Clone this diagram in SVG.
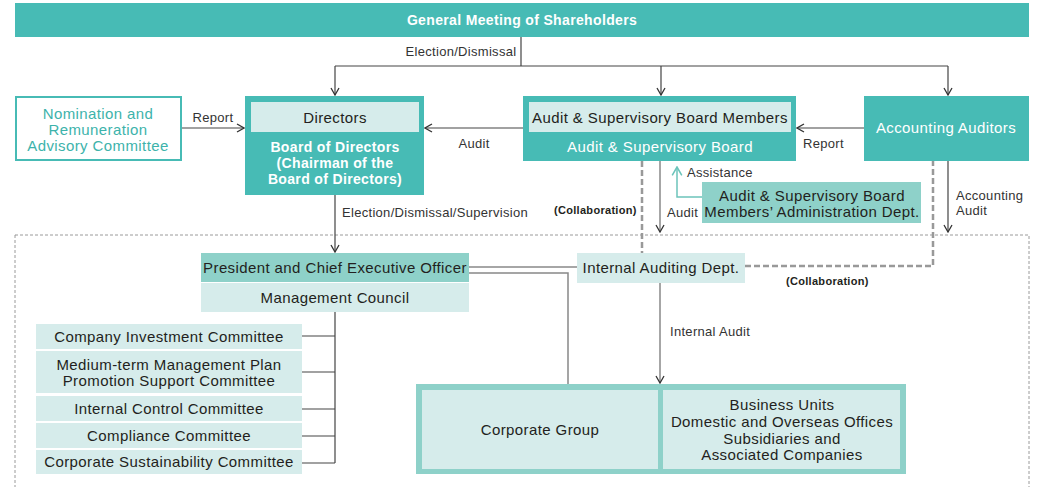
<svg xmlns="http://www.w3.org/2000/svg" width="1037" height="487" viewBox="0 0 1037 487">
<defs>
<style>
text{font-family:"Liberation Sans",Arial,sans-serif;font-size:15px;letter-spacing:0.4px;fill:#231f20}
.c{text-anchor:middle}
.w{fill:#fff}
.b{font-weight:bold;font-size:14px;letter-spacing:0.35px}
.lbl{font-size:13px;letter-spacing:0.3px;fill:#333}
.col{font-size:11px;letter-spacing:0.3px;font-weight:bold;fill:#231f20}
.dark{fill:#47bbb5}
.mid{fill:#8ed1c9}
.light{fill:#d6eceb}
.ln{fill:none;stroke:#444;stroke-width:1.2}
.gl{fill:none;stroke:#888;stroke-width:1.5}
.dash{fill:none;stroke:#999;stroke-width:2.5;stroke-dasharray:6,3}
</style>
<marker id="ar" viewBox="0 0 10 10" refX="9" refY="5" markerWidth="10" markerHeight="10" markerUnits="userSpaceOnUse" orient="auto">
<path d="M2,1 L9,5 L2,9" fill="none" stroke="#333" stroke-width="1.3"/>
</marker>
<marker id="art" viewBox="0 0 10 10" refX="9" refY="5" markerWidth="12" markerHeight="12" markerUnits="userSpaceOnUse" orient="auto">
<path d="M2,1 L9,5 L2,9" fill="none" stroke="#6cc4bb" stroke-width="1.3"/>
</marker>
</defs>

<rect x="15" y="235" width="1014" height="260" fill="none" stroke="#9a9a9a" stroke-width="1" stroke-dasharray="3,2"/>

<g id="connectors">
<path class="ln" d="M521,37 V66"/>
<path class="ln" d="M335,66 H948"/>
<path class="ln" d="M335,66 V95" marker-end="url(#ar)"/>
<path class="ln" d="M661,66 V95" marker-end="url(#ar)"/>
<path class="ln" d="M948,66 V95" marker-end="url(#ar)"/>
<path class="ln" d="M181,128 H244" marker-end="url(#ar)"/>
<path class="ln" d="M523,128 H425" marker-end="url(#ar)"/>
<path class="ln" d="M864,128 H797" marker-end="url(#ar)"/>
<path class="ln" d="M335,195 V252" marker-end="url(#ar)"/>
<path class="gl" d="M660,161 V232" marker-end="url(#ar)"/>
<path class="ln" d="M948,161 V232" marker-end="url(#ar)"/>
<path fill="none" stroke="#6cc4bb" stroke-width="1.5" d="M702,197 H677 V167" marker-end="url(#art)"/>
<path class="dash" d="M642,161 V253"/>
<path class="dash" d="M745,266 H933 V161"/>
<path class="gl" d="M469,267 H577"/>
<path class="gl" d="M469,273 H568 V385"/>
<path class="gl" d="M660,283 V383" marker-end="url(#ar)"/>
<path class="ln" d="M335,312 V463"/>
<path class="ln" d="M302,336 H335 M302,372 H335 M302,409 H335 M302,436 H335 M302,463 H335"/>
</g>

<g id="gms">
<rect class="dark" x="15" y="3" width="1014" height="34"/>
<text class="c w b" x="522" y="25">General Meeting of Shareholders</text>
</g>
<text class="lbl c" x="461" y="56">Election/Dismissal</text>

<g id="nomination">
<rect x="16" y="97" width="165" height="63" fill="#fff" stroke="#47bbb5" stroke-width="2"/>
<text class="c" style="fill:#3db3ab" x="98" y="119">Nomination and</text>
<text class="c" style="fill:#3db3ab" x="98" y="135">Remuneration</text>
<text class="c" style="fill:#3db3ab" x="98" y="151">Advisory Committee</text>
</g>
<text class="lbl c" x="213" y="122">Report</text>

<g id="board">
<rect class="dark" x="245" y="96" width="179" height="99"/>
<rect class="light" x="251" y="102" width="168" height="30"/>
<text class="c" x="335" y="123">Directors</text>
<text class="c w b" x="335" y="152">Board of Directors</text>
<text class="c w b" x="335" y="168">(Chairman of the</text>
<text class="c w b" x="335" y="184">Board of Directors)</text>
</g>
<text class="lbl c" x="474" y="148">Audit</text>
<text class="lbl" x="342" y="217">Election/Dismissal/Supervision</text>

<g id="asb">
<rect class="dark" x="523" y="96" width="273" height="65"/>
<rect class="light" x="529" y="102" width="262" height="30"/>
<text class="c" x="660" y="123">Audit &amp; Supervisory Board Members</text>
<text class="c w" x="660" y="152">Audit &amp; Supervisory Board</text>
</g>
<text class="lbl" x="803" y="148">Report</text>

<g id="accounting">
<rect class="dark" x="864" y="96" width="165" height="65"/>
<text class="c w" x="946" y="133">Accounting Auditors</text>
</g>

<text class="lbl" x="687" y="177">Assistance</text>
<g id="admin">
<rect class="mid" x="702" y="182" width="219" height="41"/>
<text class="c" x="812" y="201">Audit &amp; Supervisory Board</text>
<text class="c" x="812" y="217">Members’ Administration Dept.</text>
</g>
<text class="lbl" x="667" y="217">Audit</text>
<text class="col" x="554" y="214">(Collaboration)</text>
<text class="lbl" x="956" y="200">Accounting</text>
<text class="lbl" x="956" y="215">Audit</text>

<g id="president">
<rect class="mid" x="201" y="253" width="268" height="29"/>
<text class="c" x="335" y="273">President and Chief Executive Officer</text>
</g>
<g id="council">
<rect class="light" x="201" y="283" width="268" height="29"/>
<text class="c" x="335" y="303">Management Council</text>
</g>

<g id="internal-audit">
<rect class="light" x="577" y="253" width="168" height="30"/>
<text class="c" x="661" y="273">Internal Auditing Dept.</text>
</g>
<text class="col" x="786" y="285">(Collaboration)</text>
<text class="lbl" x="670" y="336">Internal Audit</text>

<g id="cic">
<rect class="light" x="36" y="324" width="266" height="25"/>
<text class="c" x="169" y="342">Company Investment Committee</text>
</g>
<g id="mtmp">
<rect class="light" x="36" y="351" width="266" height="42"/>
<text class="c" x="169" y="370">Medium-term Management Plan</text>
<text class="c" x="169" y="386">Promotion Support Committee</text>
</g>
<g id="icc">
<rect class="light" x="36" y="396" width="266" height="25"/>
<text class="c" x="169" y="414">Internal Control Committee</text>
</g>
<g id="cc">
<rect class="light" x="36" y="423" width="266" height="25"/>
<text class="c" x="169" y="441">Compliance Committee</text>
</g>
<g id="csc">
<rect class="light" x="36" y="450" width="266" height="24"/>
<text class="c" x="169" y="467">Corporate Sustainability Committee</text>
</g>

<g id="group">
<rect class="mid" x="416" y="384" width="490" height="90"/>
<rect class="light" x="422" y="390" width="236" height="79"/>
<rect class="light" x="663" y="390" width="237" height="79"/>
<text class="c" x="540" y="435">Corporate Group</text>
<text class="c" x="782" y="410">Business Units</text>
<text class="c" x="782" y="427">Domestic and Overseas Offices</text>
<text class="c" x="782" y="444">Subsidiaries and</text>
<text class="c" x="782" y="460">Associated Companies</text>
</g>
</svg>
